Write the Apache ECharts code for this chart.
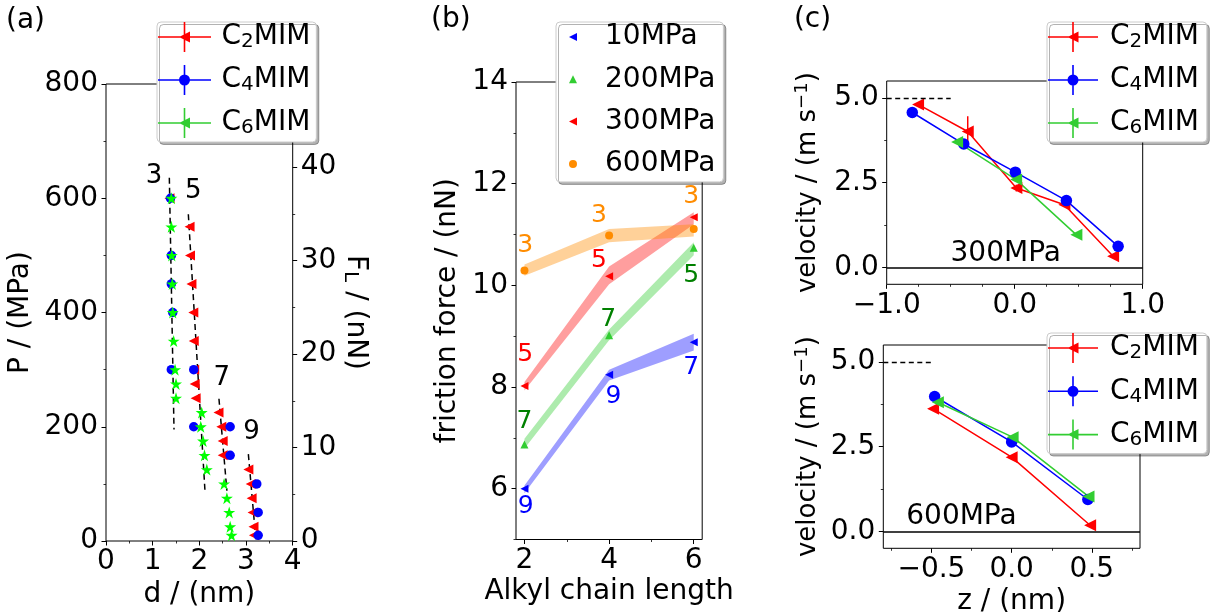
<!DOCTYPE html>
<html><head><meta charset="utf-8">
<script src="https://cdn.jsdelivr.net/npm/echarts@6/dist/echarts.min.js"></script>
<style>html,body{margin:0;padding:0;background:#fff}#c{width:1211px;height:612px}</style>
</head><body><div id="c"></div>
<script>
const FONT = 'DejaVu Sans';

// ---------- panel (a): pressure vs film thickness ----------
const aP_C2 = [600,550,500,450,400,350,300,275,250,225,200,175,150,125,100,75,50,25,10];
const aD_C2 = [1.36,1.79,1.80,1.83,1.87,1.88,1.89,1.90,1.92,2.41,2.47,2.50,2.50,3.05,3.10,3.12,3.14,3.16,3.17];
const aP_C4 = [600,500,450,400,300,300,200,200,150,100,50,10];
const aD_C4 = [1.38,1.40,1.40,1.43,1.40,1.88,1.88,2.66,2.66,3.23,3.26,3.26];
const aP_C6 = [600,550,500,450,400,350,300,275,250,225,200,175,150,125,100,75,50,25,10];
const aD_C6 = [1.40,1.40,1.41,1.42,1.43,1.45,1.48,1.50,1.50,2.05,2.03,2.08,2.11,2.16,2.53,2.59,2.64,2.66,2.69];
const aGuideStart = [[1.357,636],[1.764,572],[2.42,249],[3.05,152]];
const aGuideEnd   = [[1.457,195],[2.121,87],[2.59,88],[3.21,3]];
const aLayerLabels = [[1.03,638,'3'],[1.87,612,'5'],[2.48,285,'7'],[3.12,190,'9']];
const aXTicks = [0,1,2,3,4], aXMinor = [0.5,1.5,2.5,3.5];
const aYTicks = [0,200,400,600,800], aYMinor = [100,300,500,700];
const aFTicks = [0,10,20,30,40], aFMinor = [5,15,25,35,45];
const aFMax = 48.9;

// ---------- panel (b): friction force vs alkyl chain length ----------
const bChain = [2,4,6];
const b10  = [6.00,8.24,8.88],  b10Lo  = [5.91,8.13,8.72],  b10Hi  = [6.06,8.34,9.05];
const b200 = [6.87,9.02,10.74], b200Lo = [6.79,8.92,10.59], b200Hi = [6.98,9.13,10.85];
const b300 = [8.02,10.18,11.34],b300Lo = [7.93,10.02,11.20],b300Hi = [8.10,10.37,11.44];
const b600 = [10.29,10.98,11.11],b600Lo= [10.19,10.85,10.96],b600Hi= [10.41,11.11,11.20];
const b600Labels = [[2.02,10.78,'3'],[3.76,11.38,'3'],[5.94,11.74,'3']];
const b300Labels = [[2.02,8.64,'5'],[3.76,10.49,'5']];
const b200Labels = [[2.00,7.33,'7'],[3.98,9.33,'7'],[5.94,10.19,'5']];
const b10Labels  = [[2.03,5.64,'9'],[4.10,7.82,'9'],[5.94,8.39,'7']];
const bXTicks = [2,4,6], bXMinor = [3,5];
const bYTicks = [6,8,10,12,14], bYMinor = [5,7,9,11,13];

// ---------- panel (c): velocity profiles ----------
const cT_z_C2 = [-0.755,-0.367,0.013,0.388,0.769], cT_v_C2 = [4.81,4.01,2.34,1.85,0.33];
const cT_zerr_C2 = [0,0,0.025,0,0], cT_verr_C2 = [0,0.45,0.10,0,0];
const cT_z_C4 = [-0.80,-0.398,0.005,0.404,0.808], cT_v_C4 = [4.57,3.64,2.81,1.97,0.62];
const cT_z_C6 = [-0.45,0.011,0.482], cT_v_C6 = [3.70,2.59,0.96];
const cB_z_C2 = [-0.49,0.0,0.489], cB_v_C2 = [3.62,2.19,0.18];
const cB_z_C4 = [-0.48,0.0,0.475], cB_v_C4 = [3.98,2.64,0.94];
const cB_z_C6 = [-0.46,0.006,0.479], cB_v_C6 = [3.81,2.78,1.03];
const cWallVel = 5.0;
const cT_wallSpan = [-1.0,-0.5], cB_wallSpan = [-0.8,-0.5];
const cT_tag = [[-0.505,0.40,'300MPa']], cB_tag = [[-0.66,0.42,'600MPa']];
const cT_XTicks = [-1,0,1], cT_XMinor = [-0.75,-0.5,-0.25,0.25,0.5,0.75];
const cB_XTicks = [-0.5,0,0.5], cB_XMinor = [-0.75,-0.25,0.25,0.75];
const cYTicks = [0,2.5,5], cYMinor = [1.25,3.75];

// ---------- helpers ----------
const zip = (xs, ys) => xs.map((x, i) => [x, ys[i]]);
const fmtInt = v => String(Math.round(v));
const fmt1 = v => (v < 0 ? '\u2212' : '') + Math.abs(v).toFixed(1);

function majorAxis(gridIndex, min, max, ticks, fmt, extra) {
  return Object.assign({
    type: 'value', gridIndex, min, max,
    axisLine: {show: false, onZero: false}, splitLine: {show: false}, nameMoveOverlap: false,
    axisTick: {show: true, inside: false, length: 4.5, lineStyle: {color: '#000', width: 1}, customValues: ticks},
    axisLabel: {show: true, customValues: ticks, formatter: fmt, fontSize: 28, fontFamily: FONT, color: '#000', margin: 7},
    nameTextStyle: {fontSize: 28, fontFamily: FONT, color: '#000'}
  }, extra || {});
}
function minorAxis(gridIndex, min, max, ticks, extra) {
  return Object.assign({
    type: 'value', gridIndex, min, max,
    axisLine: {show: false, onZero: false}, splitLine: {show: false}, axisLabel: {show: false},
    axisTick: {show: true, inside: false, length: 2.5, lineStyle: {color: '#000', width: 0.8}, customValues: ticks}
  }, extra || {});
}
function markerPath(m, cx, cy, s) {
  const h = s / 2;
  if (m === 'left') return ` M${cx-h} ${cy} L${cx+h} ${cy-h} L${cx+h} ${cy+h} Z`;
  if (m === 'up') return ` M${cx} ${cy-h} L${cx+h} ${cy+h} L${cx-h} ${cy+h} Z`;
  return ` M${cx+h} ${cy} A${h} ${h} 0 1 1 ${cx-h} ${cy} A${h} ${h} 0 1 1 ${cx+h} ${cy} Z`;
}
function crossIcon(W, H, m, s) {
  const t = 1.6, cx = W / 2, cy = H / 2;
  return 'path://' + `M0 ${cy-t/2} H${W} V${cy+t/2} H0 Z M${cx-t/2} 0 H${cx+t/2} V${H} H${cx-t/2} Z` + markerPath(m, cx, cy, s);
}
function markerIcon(W, H, m, s) {
  const e = 0.01;
  return 'path://' + `M0 0 H${e} V${e} H0 Z M${W-e} ${H-e} H${W} V${H} H${W-e} Z` + markerPath(m, W / 2, H / 2, s);
}
function legendFmt(name) {
  const m = name.match(/^C(\d)MIM$/);
  if (m) return '{f|C}{s|' + m[1] + '}{m|MIM}';
  return '{f|' + name + '}';
}
function legendBox(left, top, padding, itemWidth, itemGap, lead, data) {
  return {
    orient: 'vertical', left, top, padding, itemWidth, itemHeight: 30, itemGap,
    selectedMode: false, backgroundColor: '#ffffff', borderColor: '#cccccc', borderWidth: 1,
    borderRadius: 4, shadowColor: 'rgba(0,0,0,0.3)', shadowBlur: 0, shadowOffsetX: 2.5, shadowOffsetY: 2.5,
    itemStyle: {borderWidth: 0}, symbolKeepAspect: true,
    formatter: legendFmt,
    textStyle: {color: '#000', fontFamily: FONT, fontSize: 28, rich: {
      f: {fontSize: 28, lineHeight: 30, fontFamily: FONT, color: '#000', padding: [0, 0, 0, lead]},
      m: {fontSize: 28, lineHeight: 30, fontFamily: FONT, color: '#000'},
      s: {fontSize: 20, lineHeight: 16, verticalAlign: 'bottom', fontFamily: FONT, color: '#000'}
    }},
    data
  };
}
function labelSeries(xi, yi, arr, color, size, pos) {
  return {
    type: 'scatter', xAxisIndex: xi, yAxisIndex: yi, symbol: 'circle', symbolSize: 1, silent: true, z: 5,
    itemStyle: {color: 'rgba(0,0,0,0)', opacity: 1},
    data: arr.map(d => ({value: [d[0], d[1]], label: {formatter: d[2]}})),
    label: {show: true, position: pos, distance: 0, color, fontSize: size, fontFamily: FONT, opacity: 1, textBorderWidth: 0}
  };
}
function bandSeries(xi, yi, xs, lo, hi, fill) {
  return {
    type: 'custom', xAxisIndex: xi, yAxisIndex: yi, silent: true, z: 1,
    data: xs.map((x, i) => [x, lo[i], hi[i]]),
    renderItem: function (params, api) {
      if (params.dataIndex !== 0) return null;
      const pts = [];
      for (let i = 0; i < xs.length; i++) pts.push(api.coord([xs[i], hi[i]]));
      for (let i = xs.length - 1; i >= 0; i--) pts.push(api.coord([xs[i], lo[i]]));
      return {type: 'polygon', shape: {points: pts}, style: {fill}};
    }
  };
}
function errSeries(xi, yi, xs, ys, xe, ye, color) {
  return {
    type: 'custom', xAxisIndex: xi, yAxisIndex: yi, silent: true, z: 3,
    data: xs.map((x, i) => [x, ys[i], xe[i], ye[i]]),
    renderItem: function (params, api) {
      const x = api.value(0), y = api.value(1), ex = api.value(2), ey = api.value(3);
      const ch = [];
      if (ey > 0) { const p = api.coord([x, y - ey]), q = api.coord([x, y + ey]);
        ch.push({type: 'line', shape: {x1: p[0], y1: p[1], x2: q[0], y2: q[1]}, style: {stroke: color, lineWidth: 1.5}}); }
      if (ex > 0) { const p = api.coord([x - ex, y]), q = api.coord([x + ex, y]);
        ch.push({type: 'line', shape: {x1: p[0], y1: p[1], x2: q[0], y2: q[1]}, style: {stroke: color, lineWidth: 1.5}}); }
      return {type: 'group', children: ch};
    }
  };
}
const STAR = 'path://M0,-1 L0.2245,-0.309 L0.951,-0.309 L0.363,0.118 L0.588,0.809 L0,0.382 L-0.588,0.809 L-0.363,0.118 L-0.951,-0.309 L-0.2245,-0.309 Z';
const RED = '#ff0000', BLUE = '#0000ff', LGREEN = '#32cd32', LIME = '#00ff00', ORANGE = '#ff8c00', DGREEN = '#008000';

const gridBase = {show: true, borderColor: '#000', borderWidth: 1, backgroundColor: 'transparent', containLabel: false, outerBoundsMode: 'none'};
const grids = [
  Object.assign({left: 106, top: 84, width: 186.7, height: 457}, gridBase),
  Object.assign({left: 516, top: 82, width: 186.2, height: 457.5}, gridBase),
  Object.assign({left: 886.7, top: 81, width: 256, height: 203.3}, gridBase),
  Object.assign({left: 883.3, top: 345, width: 256.7, height: 203.3}, gridBase)
];

const xAxes = [
  majorAxis(0, 0, 4, aXTicks, fmtInt, {position: 'bottom', name: 'd / (nm)', nameLocation: 'middle', nameGap: 40}),
  minorAxis(0, 0, 4, aXMinor, {position: 'bottom'}),
  majorAxis(1, 1.8, 6.2, bXTicks, fmtInt, {position: 'bottom', name: 'Alkyl chain length', nameLocation: 'middle', nameGap: 38}),
  minorAxis(1, 1.8, 6.2, bXMinor, {position: 'bottom'}),
  majorAxis(2, -1, 1, cT_XTicks, fmt1, {position: 'bottom'}),
  minorAxis(2, -1, 1, cT_XMinor, {position: 'bottom'}),
  majorAxis(3, -0.8, 0.8, cB_XTicks, fmt1, {position: 'bottom', name: 'z / (nm)', nameLocation: 'middle', nameGap: 39}),
  minorAxis(3, -0.8, 0.8, cB_XMinor, {position: 'bottom'})
];
const velName = '{m|velocity / (m s}{p|\u22121}{m|)}';
const velRich = {m: {fontSize: 26, lineHeight: 30, fontFamily: FONT, color: '#000'}, p: {fontSize: 18, lineHeight: 14, verticalAlign: 'top', fontFamily: FONT, color: '#000'}};
const yLab = (ticks, fmt) => ({customValues: ticks, formatter: fmt, fontSize: 28, fontFamily: FONT, color: '#000', margin: 8});
const yAxes = [
  majorAxis(0, 0, 800, aYTicks, fmtInt, {position: 'left', name: 'P / (MPa)', nameLocation: 'middle', nameGap: 71, nameRotate: 90, axisLabel: yLab(aYTicks, fmtInt)}),
  minorAxis(0, 0, 800, aYMinor, {position: 'left'}),
  majorAxis(0, 0, aFMax, aFTicks, fmtInt, {position: 'right', name: '{m|F}{s|L}{m| / (nN)}', nameLocation: 'middle', nameGap: 48, nameRotate: -90,
    axisLabel: yLab(aFTicks, fmtInt),
    nameTextStyle: {fontFamily: FONT, color: '#000', rich: {m: {fontSize: 28, lineHeight: 30, fontFamily: FONT, color: '#000'}, s: {fontSize: 20, lineHeight: 16, verticalAlign: 'bottom', fontFamily: FONT, color: '#000'}}}}),
  minorAxis(0, 0, aFMax, aFMinor, {position: 'right'}),
  majorAxis(1, 5, 14, bYTicks, fmtInt, {position: 'left', name: 'friction force / (nN)', nameLocation: 'middle', nameGap: 54, nameRotate: 90, axisLabel: yLab(bYTicks, fmtInt)}),
  minorAxis(1, 5, 14, bYMinor, {position: 'left'}),
  majorAxis(2, -0.5, 5.5, cYTicks, fmt1, {position: 'left', name: velName, nameLocation: 'middle', nameGap: 63, nameRotate: 90, nameTextStyle: {fontFamily: FONT, color: '#000', rich: velRich}, axisLabel: yLab(cYTicks, fmt1)}),
  minorAxis(2, -0.5, 5.5, cYMinor, {position: 'left'}),
  majorAxis(3, -0.5, 5.5, cYTicks, fmt1, {position: 'left', name: velName, nameLocation: 'middle', nameGap: 60, nameRotate: 90, nameTextStyle: {fontFamily: FONT, color: '#000', rich: velRich}, axisLabel: yLab(cYTicks, fmt1)}),
  minorAxis(3, -0.5, 5.5, cYMinor, {position: 'left'})
];

const series = [];
// (a)
aGuideStart.forEach((s, i) => series.push({type: 'line', xAxisIndex: 0, yAxisIndex: 0, silent: true, z: 2, symbol: 'none',
  data: [s, aGuideEnd[i]], lineStyle: {color: '#000', width: 1.5, type: [6, 4]}}));
series.push({name: 'C2MIM', type: 'scatter', xAxisIndex: 0, yAxisIndex: 0, z: 3, data: zip(aD_C2, aP_C2), symbol: 'triangle', symbolRotate: 90, symbolSize: 10, itemStyle: {color: RED, borderWidth: 0, opacity: 1}});
series.push({name: 'C4MIM', type: 'scatter', xAxisIndex: 0, yAxisIndex: 0, z: 3, data: zip(aD_C4, aP_C4), symbol: 'circle', symbolSize: 9.5, itemStyle: {color: BLUE, borderWidth: 0, opacity: 1}});
series.push({name: 'C6MIM', type: 'scatter', xAxisIndex: 0, yAxisIndex: 0, z: 3, data: zip(aD_C6, aP_C6), symbol: STAR, symbolSize: 12, itemStyle: {color: LIME, borderWidth: 0, opacity: 1}});
series.push(labelSeries(0, 0, aLayerLabels, '#000', 26, 'inside'));
// (b)
series.push(bandSeries(2, 4, bChain, b10Lo, b10Hi, 'rgba(0,0,255,0.38)'));
series.push(bandSeries(2, 4, bChain, b200Lo, b200Hi, 'rgba(50,205,50,0.4)'));
series.push(bandSeries(2, 4, bChain, b300Lo, b300Hi, 'rgba(255,0,0,0.38)'));
series.push(bandSeries(2, 4, bChain, b600Lo, b600Hi, 'rgba(255,140,0,0.4)'));
series.push({name: '10MPa', type: 'scatter', xAxisIndex: 2, yAxisIndex: 4, z: 3, data: zip(bChain, b10), symbol: 'triangle', symbolRotate: 90, symbolSize: 8, itemStyle: {color: BLUE, borderWidth: 0, opacity: 1}});
series.push({name: '200MPa', type: 'scatter', xAxisIndex: 2, yAxisIndex: 4, z: 3, data: zip(bChain, b200), symbol: 'triangle', symbolSize: 8, itemStyle: {color: LGREEN, borderWidth: 0, opacity: 1}});
series.push({name: '300MPa', type: 'scatter', xAxisIndex: 2, yAxisIndex: 4, z: 3, data: zip(bChain, b300), symbol: 'triangle', symbolRotate: 90, symbolSize: 8, itemStyle: {color: RED, borderWidth: 0, opacity: 1}});
series.push({name: '600MPa', type: 'scatter', xAxisIndex: 2, yAxisIndex: 4, z: 3, data: zip(bChain, b600), symbol: 'circle', symbolSize: 8, itemStyle: {color: ORANGE, borderWidth: 0, opacity: 1}});
series.push(labelSeries(2, 4, b600Labels, ORANGE, 25, 'inside'));
series.push(labelSeries(2, 4, b300Labels, RED, 25, 'inside'));
series.push(labelSeries(2, 4, b200Labels, DGREEN, 25, 'inside'));
series.push(labelSeries(2, 4, b10Labels, BLUE, 25, 'inside'));
// (c)
function velLine(name, xi, yi, xs, ys, color, sym, size, extra) {
  return Object.assign({name, type: 'line', xAxisIndex: xi, yAxisIndex: yi, z: 3, data: zip(xs, ys),
    symbol: sym, symbolRotate: sym === 'triangle' ? 90 : 0, symbolSize: size,
    lineStyle: {color, width: 1.5}, itemStyle: {color, borderWidth: 0}}, extra || {});
}
function zeroLine() {
  return {silent: true, symbol: ['none', 'none'], label: {show: false}, lineStyle: {color: '#000', width: 1.5, type: 'solid'}, data: [{yAxis: 0}]};
}
function wallLine(span) {
  return {silent: true, symbol: ['none', 'none'], label: {show: false}, lineStyle: {color: '#000', width: 1.3, type: [5, 3.5]},
    data: [[{coord: [span[0], cWallVel]}, {coord: [span[1], cWallVel]}]]};
}
series.push(velLine('C2MIM', 4, 6, cT_z_C2, cT_v_C2, RED, 'triangle', 12, {markLine: zeroLine()}));
series.push(errSeries(4, 6, cT_z_C2, cT_v_C2, cT_zerr_C2, cT_verr_C2, RED));
series.push(velLine('C4MIM', 4, 6, cT_z_C4, cT_v_C4, BLUE, 'circle', 11.5, {markLine: wallLine(cT_wallSpan)}));
series.push(velLine('C6MIM', 4, 6, cT_z_C6, cT_v_C6, LGREEN, 'triangle', 12));
series.push(labelSeries(4, 6, cT_tag, '#000', 28, 'right'));
series.push(velLine('C2MIM', 6, 8, cB_z_C2, cB_v_C2, RED, 'triangle', 12, {markLine: zeroLine()}));
series.push(velLine('C4MIM', 6, 8, cB_z_C4, cB_v_C4, BLUE, 'circle', 11.5, {markLine: wallLine(cB_wallSpan)}));
series.push(velLine('C6MIM', 6, 8, cB_z_C6, cB_v_C6, LGREEN, 'triangle', 12));
series.push(labelSeries(6, 8, cB_tag, '#000', 28, 'right'));

const ilData = (W) => [
  {name: 'C2MIM', icon: crossIcon(W, 30, 'left', 11), itemStyle: {color: RED}},
  {name: 'C4MIM', icon: crossIcon(W, 30, 'circle', 11), itemStyle: {color: BLUE}},
  {name: 'C6MIM', icon: crossIcon(W, 30, 'left', 11), itemStyle: {color: LGREEN}}
];
const legends = [
  legendBox(157, 22, [0, 6, 4, 1], 53, 13, 5.5, ilData(53)),
  legendBox(556, 22, [0, 8, 3, 0], 34, 12.3, 10, [
    {name: '10MPa', icon: markerIcon(34, 30, 'left', 8), itemStyle: {color: BLUE}},
    {name: '200MPa', icon: markerIcon(34, 30, 'up', 8), itemStyle: {color: LGREEN}},
    {name: '300MPa', icon: markerIcon(34, 30, 'left', 8), itemStyle: {color: RED}},
    {name: '600MPa', icon: markerIcon(34, 30, 'circle', 8), itemStyle: {color: ORANGE}}
  ]),
  legendBox(1047, 22, [0, 8, 4, 1], 50, 13, 7, ilData(50)),
  legendBox(1047, 333, [0, 8, 4, 1], 50, 13.3, 7, ilData(50))
];

function panelTag(x, y, t) {
  return {type: 'text', x, y, z: 100, style: {text: t, fontSize: 28, fontFamily: FONT, fill: '#000', align: 'center', verticalAlign: 'middle', textAlign: 'center', textVerticalAlign: 'middle'}};
}

const chart = echarts.init(document.getElementById('c'), null, {renderer: 'canvas'});
chart.setOption({
  animation: false,
  backgroundColor: '#fff',
  textStyle: {fontFamily: FONT},
  grid: grids, xAxis: xAxes, yAxis: yAxes, series, legend: legends,
  graphic: [panelTag(25.5, 20.5, '(a)'), panelTag(450.8, 20, '(b)'), panelTag(812.5, 20, '(c)')]
});
</script></body></html>
